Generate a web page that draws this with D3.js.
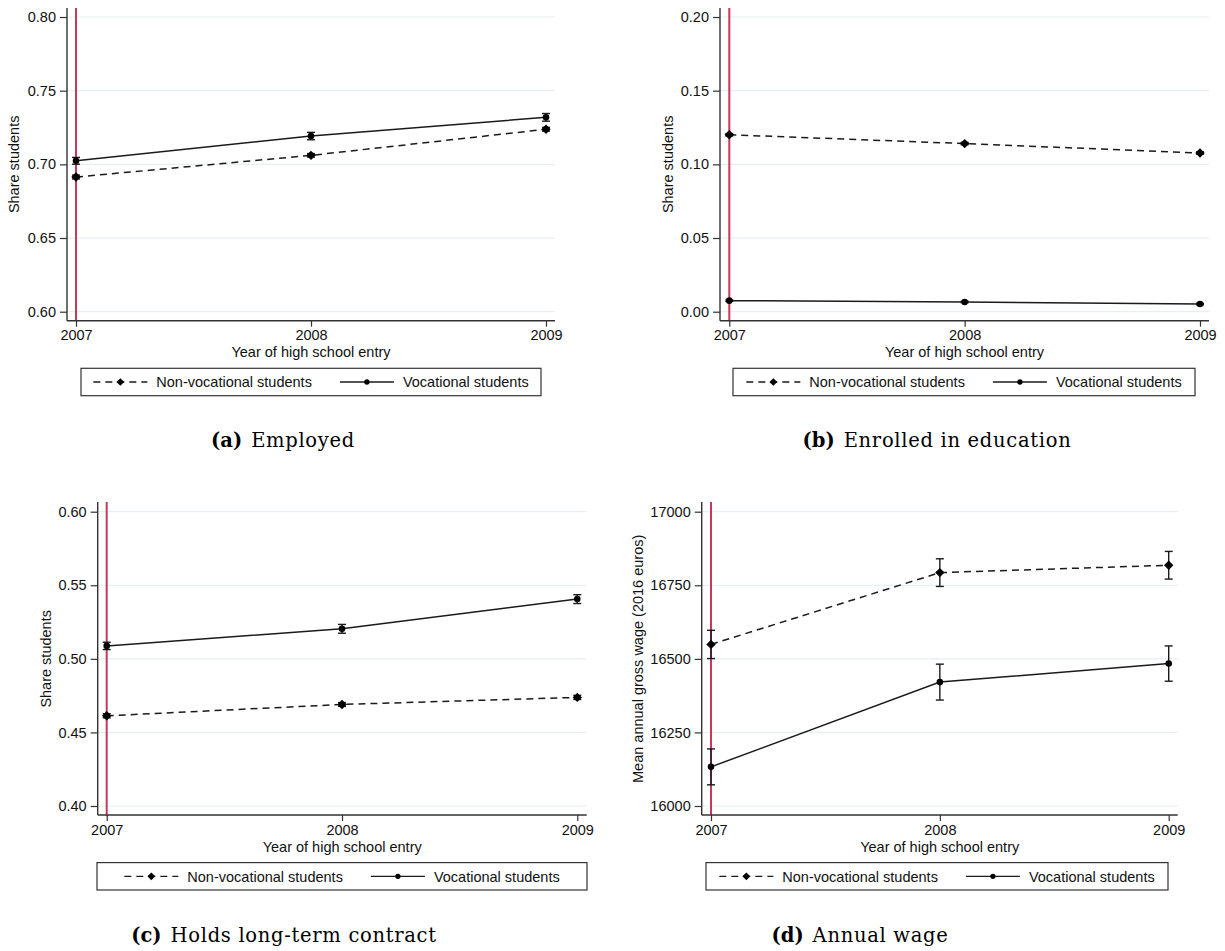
<!DOCTYPE html>
<html><head><meta charset="utf-8">
<script src="https://cdn.jsdelivr.net/npm/d3@7"></script>
<style>body{margin:0;background:#fff} svg{display:block}</style>
</head><body><svg id="chart" width="1225" height="951"></svg>
<script>
// ---------- data ----------
const years = [2007, 2008, 2009];
const seriesNames = ["Non-vocational students", "Vocational students"];
const xTitle = "Year of high school entry";

// (a) Employed
const employedNonVoc    = [0.6914, 0.7061, 0.7238];
const employedNonVocErr = [0.0013, 0.0012, 0.0013];
const employedVoc       = [0.7024, 0.7192, 0.7319];
const employedVocErr    = [0.0023, 0.0025, 0.0026];
const ticksA = [0.60, 0.65, 0.70, 0.75, 0.80];

// (b) Enrolled in education
const enrolledNonVoc    = [0.1201, 0.1141, 0.1077];
const enrolledNonVocErr = [0.0008, 0.0008, 0.0008];
const enrolledVoc       = [0.0075, 0.0066, 0.0052];
const enrolledVocErr    = [0.0005, 0.0005, 0.0005];
const ticksB = [0.00, 0.05, 0.10, 0.15, 0.20];

// (c) Holds long-term contract
const contractNonVoc    = [0.4613, 0.4690, 0.4738];
const contractNonVocErr = [0.0014, 0.0013, 0.0014];
const contractVoc       = [0.5088, 0.5204, 0.5406];
const contractVocErr    = [0.0025, 0.0030, 0.0030];
const ticksC = [0.40, 0.45, 0.50, 0.55, 0.60];

// (d) Annual wage
const wageNonVoc    = [16549, 16793, 16818];
const wageNonVocErr = [48, 47, 47];
const wageVoc       = [16133, 16421, 16484];
const wageVocErr    = [61, 61, 60];
const ticksD = [16000, 16250, 16500, 16750, 17000];

// ---------- panels ----------
const panels = [
  {label:"(a)", caption:"Employed", yTitle:"Share students", ticks:ticksA, fmt:d3.format(".2f"),
   nv:employedNonVoc, nvE:employedNonVocErr, v:employedVoc, vE:employedVocErr,
   axisX:67, x0:76, x1:546, right:555, top:8, bottom:320.7, yTopPx:17, yBotPx:311.7,
   yTitleX:19, legX0:81, legW:460, capX:283},
  {label:"(b)", caption:"Enrolled in education", yTitle:"Share students", ticks:ticksB, fmt:d3.format(".2f"),
   nv:enrolledNonVoc, nvE:enrolledNonVocErr, v:enrolledVoc, vE:enrolledVocErr,
   axisX:720, x0:729.3, x1:1200, right:1209, top:8, bottom:320.7, yTopPx:17, yBotPx:311.7,
   yTitleX:673, legX0:733, legW:462, capX:937},
  {label:"(c)", caption:"Holds long-term contract", yTitle:"Share students", ticks:ticksC, fmt:d3.format(".2f"),
   nv:contractNonVoc, nvE:contractNonVocErr, v:contractVoc, vE:contractVocErr,
   axisX:97.7, x0:106.7, x1:577.3, right:586.7, top:502, bottom:815, yTopPx:511.7, yBotPx:806,
   yTitleX:51, legX0:97, legW:490, capX:284},
  {label:"(d)", caption:"Annual wage", yTitle:"Mean annual gross wage (2016 euros)", ticks:ticksD, fmt:d3.format("d"),
   nv:wageNonVoc, nvE:wageNonVocErr, v:wageVoc, vE:wageVocErr,
   axisX:701.7, x0:711, x1:1168.7, right:1177.7, top:502, bottom:815, yTopPx:511.7, yBotPx:806,
   yTitleX:643, legX0:706, legW:462, capX:860}
];

const svg = d3.select("#chart");
const FONT = "'Liberation Sans', Arial, Helvetica, sans-serif";
const FS = 14.5;
const INK = "#1a1a1a";

// Stata-style diamond: a square rotated 45 degrees
const diamond = {
  draw(ctx, size) {
    const r = Math.sqrt(size / 2);
    ctx.moveTo(0, -r); ctx.lineTo(r, 0); ctx.lineTo(0, r); ctx.lineTo(-r, 0); ctx.closePath();
  }
};

panels.forEach(p => {
  const g = svg.append("g");
  const x = d3.scaleLinear().domain([years[0], years[years.length-1]]).range([p.x0, p.x1]);
  const y = d3.scaleLinear().domain([p.ticks[0], p.ticks[p.ticks.length-1]]).range([p.yBotPx, p.yTopPx]);

  // grid
  g.append("g").selectAll("line").data(p.ticks).join("line")
    .attr("x1", p.axisX).attr("x2", p.right)
    .attr("y1", d => y(d)).attr("y2", d => y(d))
    .attr("stroke", "#e6eff1").attr("stroke-width", 1.2);

  // red reference line at first year
  g.append("line").attr("x1", x(years[0])).attr("x2", x(years[0]))
    .attr("y1", p.top).attr("y2", p.bottom)
    .attr("stroke", "#c7385a").attr("stroke-width", 2);

  // y axis
  const ya = g.append("g").attr("transform", `translate(${p.axisX},0)`)
    .call(d3.axisLeft(y).tickValues(p.ticks).tickFormat(p.fmt).tickSize(7).tickPadding(4));
  ya.select(".domain").remove();
  ya.selectAll("line").attr("stroke", "#333").attr("stroke-width", 1.2);
  ya.selectAll("text").attr("font-family", FONT).attr("font-size", FS).attr("fill", "#111");
  g.append("line").attr("x1", p.axisX).attr("x2", p.axisX).attr("y1", p.top).attr("y2", p.bottom)
    .attr("stroke", "#333").attr("stroke-width", 1.4);

  // x axis
  const xa = g.append("g").attr("transform", `translate(0,${p.bottom})`)
    .call(d3.axisBottom(x).tickValues(years).tickFormat(d3.format("d")).tickSize(6).tickPadding(3.5));
  xa.select(".domain").remove();
  xa.selectAll("line").attr("stroke", "#333").attr("stroke-width", 1.2);
  xa.selectAll("text").attr("font-family", FONT).attr("font-size", FS).attr("fill", "#111");
  g.append("line").attr("x1", p.axisX).attr("x2", p.right).attr("y1", p.bottom).attr("y2", p.bottom)
    .attr("stroke", "#333").attr("stroke-width", 1.4);

  // axis titles
  g.append("text").attr("x", (p.axisX + p.right)/2).attr("y", p.bottom + 36.6)
    .attr("text-anchor", "middle").attr("font-family", FONT).attr("font-size", FS).attr("fill", "#111")
    .text(xTitle);
  g.append("text").attr("transform", `translate(${p.yTitleX},${(p.yTopPx+p.yBotPx)/2}) rotate(-90)`)
    .attr("text-anchor", "middle").attr("font-family", FONT).attr("font-size", FS).attr("fill", "#111")
    .text(p.yTitle);

  // series
  const series = [
    {vals:p.nv, err:p.nvE, dash:"7,5", sym:diamond, size:44, lsize:30},
    {vals:p.v,  err:p.vE,  dash:null,  sym:d3.symbolCircle, size:34, lsize:22}
  ];
  const line = d3.line().x((d,i) => x(years[i])).y(d => y(d));
  series.forEach(s => {
    g.append("path").attr("d", line(s.vals)).attr("fill", "none")
      .attr("stroke", INK).attr("stroke-width", 1.5)
      .attr("stroke-dasharray", s.dash);
    const eb = g.append("g");
    s.vals.forEach((v,i) => {
      const xx = x(years[i]), lo = y(v - s.err[i]), hi = y(v + s.err[i]);
      eb.append("line").attr("x1", xx).attr("x2", xx).attr("y1", lo).attr("y2", hi)
        .attr("stroke", INK).attr("stroke-width", 1.4);
      [lo, hi].forEach(yy => eb.append("line").attr("x1", xx-4).attr("x2", xx+4)
        .attr("y1", yy).attr("y2", yy).attr("stroke", INK).attr("stroke-width", 1.4));
    });
    g.append("g").selectAll("path").data(s.vals).join("path")
      .attr("transform", (d,i) => `translate(${x(years[i])},${y(d)})`)
      .attr("d", d3.symbol().type(s.sym).size(s.size))
      .attr("fill", "#000");
  });

  // legend
  const ly = p.bottom + 47.6, lh = 27.4;
  const lg = g.append("g");
  lg.append("rect").attr("x", p.legX0).attr("y", ly).attr("width", p.legW).attr("height", lh)
    .attr("fill", "#fff").attr("stroke", "#333").attr("stroke-width", 1.2);
  const items = lg.append("g");
  const cy = ly + lh/2;
  let cx = 0;
  series.forEach((s, k) => {
    if (k > 0) cx += 28;
    items.append("line").attr("x1", cx).attr("x2", cx + 54).attr("y1", cy).attr("y2", cy)
      .attr("stroke", INK).attr("stroke-width", 1.3).attr("stroke-dasharray", s.dash ? "7,5" : null);
    items.append("path").attr("transform", `translate(${cx+27},${cy})`)
      .attr("d", d3.symbol().type(s.sym).size(s.lsize)).attr("fill", "#000");
    cx += 54 + 9;
    const t = items.append("text").attr("x", cx).attr("y", cy + 5.3)
      .attr("font-family", FONT).attr("font-size", FS).attr("fill", "#111").text(seriesNames[k]);
    cx += t.node().getComputedTextLength();
  });
  const pad = (p.legW - cx) / 2;
  items.attr("transform", `translate(${p.legX0 + pad},0)`);

  // caption
  const cap = g.append("text").attr("x", p.capX).attr("y", p.bottom + 126.6)
    .attr("text-anchor", "middle").attr("font-family", "'DejaVu Serif', 'Liberation Serif', serif")
    .attr("font-size", 19.5).attr("fill", "#000");
  cap.append("tspan").attr("font-weight", "bold").text(p.label);
  cap.append("tspan").attr("dx", 9).attr("letter-spacing", 0.7).text(p.caption);
});
</script></body></html>
